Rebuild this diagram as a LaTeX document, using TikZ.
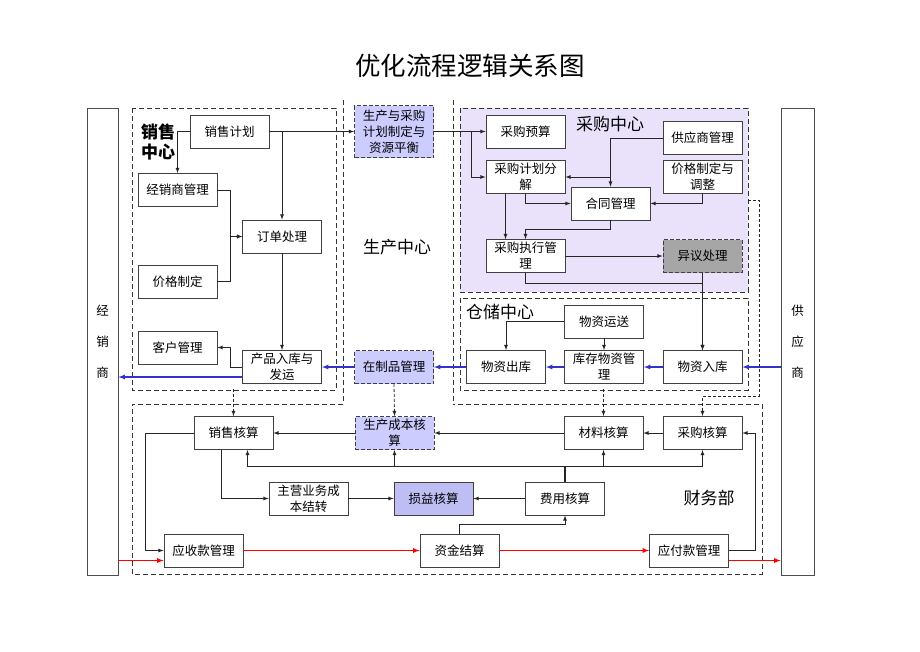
\documentclass[tikz,border=0pt]{standalone}
\usepackage{fontspec}
\setmainfont{Noto Sans CJK SC}
\usepackage{tikz}
\usetikzlibrary{shapes,arrows}
\definecolor{lav}{RGB}{204,204,255}
\definecolor{lavdark}{RGB}{190,190,245}
\definecolor{lavbg}{RGB}{233,226,250}
\definecolor{arrblue}{RGB}{51,51,204}

\begin{document}
\begin{tikzpicture}[x=1pt, y=-1pt,
	main/.style = {draw=black!75, line width=0.8pt, fill=white, minimum width=79pt, minimum height=33pt, inner sep=1.5pt, align=center, font=\fontsize{12.5}{16}\selectfont},
	dmain/.style = {main, dash pattern=on 4pt off 2pt, fill=lav},
	group/.style = {draw=black!80, line width=0.8pt, dash pattern=on 5pt off 3pt},
	arr/.style = {-latex, draw=black!85, line width=0.8pt},
	darr/.style = {arr, dash pattern=on 3pt off 2pt},
	blue arr/.style = {-latex, draw=arrblue, line width=1.2pt},
	red arr/.style = {-latex, draw=red, line width=1.2pt},
	side/.style = {draw=black!70, line width=0.8pt, minimum width=31pt, minimum height=467pt, inner sep=0pt, align=center, font=\fontsize{12.5}{31}\selectfont},
	lbl/.style = {inner sep=0pt, font=\fontsize{17}{20}\selectfont}]
		\useasboundingbox (0,0) rectangle (920,651);
		\node (t) at (470,66) {\fontsize{25.5}{30}\selectfont 优化流程逻辑关系图};
		\draw[group] (132,108) rectangle (336,390);
		\draw[group] (343,100) -- (343,404);
		\draw[group] (453,100) -- (453,404);
		\draw[group, fill=lavbg] (460,108) rectangle (748,292);
		\draw[group] (460,298) rectangle (748,390);
		\draw[group] (343,404) -- (132,404) -- (132,574) -- (762,574) -- (762,404) -- (453,404);
		\node (L) [side] at (102.5,341.5) {经\\销\\商};
		\node (R) [side, minimum width=33pt] at (797.5,341.5) {供\\应\\商};
		\node (s) [lbl, align=center, font=\bfseries\fontsize{17}{20}\selectfont] at (158,142) {销售\\中心};
		\node (p) [lbl] at (397,247) {生产中心};
		\node (c) [lbl] at (610,124) {采购中心};
		\node (w) [lbl] at (500,312) {仓储中心};
		\node (f) [lbl] at (709,498) {财务部};
		\node (1) [main]  at (229.5,131.5) {销售计划};
		\node (2) [main]  at (177.5,190) {经销商管理};
		\node (3) [main]  at (177.5,281.5) {价格制定};
		\node (4) [main]  at (282,236.5) {订单处理};
		\node (5) [main]  at (177.5,347.5) {客户管理};
		\node (6) [main]  at (282,367) {产品入库与\\发运};
		\node (7) [dmain, minimum height=52pt]  at (394,131.5) {生产与采购\\计划制定与\\资源平衡};
		\node (8) [dmain]  at (394,367) {在制品管理};
		\node (9) [main]  at (525.5,131.5) {采购预算};
		\node (10) [main]  at (702.5,138) {供应商管理};
		\node (11) [main]  at (525.5,177) {采购计划分\\解};
		\node (12) [main]  at (702.5,177) {价格制定与\\调整};
		\node (13) [main]  at (610.5,203.5) {合同管理};
		\node (14) [main]  at (525.5,256) {采购执行管\\理};
		\node (15) [dmain, fill=black!35]  at (702.5,256) {异议处理};
		\node (16) [main]  at (604,321.5) {物资运送};
		\node (17) [main]  at (506,367) {物资出库};
		\node (18) [main]  at (604,367) {库存物资管\\理};
		\node (19) [main]  at (702.5,367) {物资入库};
		\node (20) [main]  at (233.5,433) {销售核算};
		\node (21) [dmain]  at (394.5,433) {生产成本核\\算};
		\node (22) [main]  at (603.5,433) {材料核算};
		\node (23) [main]  at (702.5,433) {采购核算};
		\node (24) [main]  at (308.5,498.5) {主营业务成\\本结转};
		\node (25) [main, fill=lavdark]  at (433.5,498.5) {损益核算};
		\node (26) [main]  at (565,498.5) {费用核算};
		\node (27) [main]  at (203.5,550.5) {应收款管理};
		\node (28) [main]  at (459.5,550.5) {资金结算};
		\node (29) [main]  at (689,550.5) {应付款管理};
		\draw[arr]  (1.west) -| (2.north);
		\draw[arr]  (1.east) -| (4.north);
		\draw[arr]  (1.east) -- (7.west);
		\draw[arr]  (2.east) -- ++(13,0) |- (4.west);
		\draw[arr]  (3.east) -- ++(13,0) |- (4.west);
		\draw[arr]  (4.south) -- (6.north);
		\draw[arr]  (6.west) -- ++(-12,0) |- (5.east);
		\draw[blue arr]  ([yshift=-10pt]6.west) -- ([yshift=-10pt]6.west -| L.east);
		\draw[blue arr]  (8.west) -- (6.east);
		\draw[arr]  (7.east) -- (9.west);
		\draw[arr]  (7.east) -- ++(37,0) |- (11.west);
		\draw[arr]  (10.west) -| (13.north);
		\draw[arr]  (13.north |- 11.east) -- (11.east);
		\draw[arr]  (12.south) |- (13.east);
		\draw[arr]  (11.south) |- (13.west);
		\draw[arr]  ([xshift=-20pt]11.south) -- ([xshift=-20pt]14.north);
		\draw[arr]  (13.south) -- ++(0,9) -| (14.north);
		\draw[arr]  (14.east) -- (15.west);
		\draw[arr]  (15.south) -- (19.north);
		\draw[arr]  (14.south) -- ++(0,10) -| (19.north);
		\draw[arr]  (16.west) -| (17.north);
		\draw[arr]  (16.south) -- (18.north);
		\draw[blue arr]  (19.east -| R.west) -- (19.east);
		\draw[blue arr]  (19.west) -- (18.east);
		\draw[blue arr]  (18.west) -- (17.east);
		\draw[blue arr]  (17.west) -- (8.east);
		\draw[arr]  (23.west) -- (22.east);
		\draw[arr]  (22.west) -- (21.east);
		\draw[arr]  (21.west) -- (20.east);
		\coordinate (k) at (565,466);
		\draw[line width=1.2pt, black!85]  (26.north) -- (k);
		\draw[arr]  (k) -| ([xshift=14pt]20.south);
		\draw[arr]  (k) -| (21.south);
		\draw[arr]  (k) -| (22.south);
		\draw[arr]  (k) -| (23.south);
		\draw[arr]  ([xshift=-12pt]20.south) |- (24.west);
		\draw[arr]  (24.east) -- (25.west);
		\draw[arr]  (26.west) -- (25.east);
		\draw[arr]  (20.west) -- ++(-48,0) |- (27.west);
		\draw[red arr]  (27.east) -- (28.west);
		\draw[red arr]  (28.east) -- (29.west);
		\draw[arr]  (28.north) -- ++(0,-9) -| (26.south);
		\draw[arr]  (29.east) -- ++(26,0) |- (23.east);
		\draw[red arr]  ([yshift=-10pt]27.west -| L.east) -- ([yshift=-10pt]27.west);
		\draw[red arr]  ([yshift=-10pt]29.east) -- ([yshift=-10pt]29.east -| R.west);
		\draw[darr]  (20.north) ++(0,-27) -- (20.north);
		\draw[darr]  (8.south) -- (21.north);
		\draw[darr]  (22.north) ++(0,-27) -- (22.north);
		\draw[darr]  (748,200) -- (759,200) -- (759,396) -| (23.north);
	\end{tikzpicture}
\end{document}
